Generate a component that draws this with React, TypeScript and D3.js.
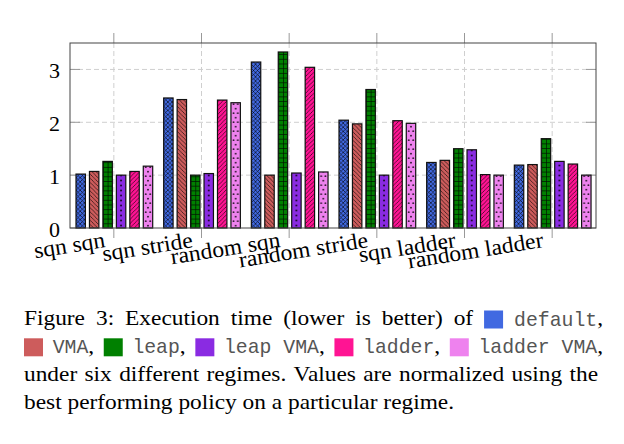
import { useEffect, useRef } from "react";
import * as d3 from "d3";

const regimes = ["sqn sqn", "sqn stride", "random sqn", "random stride", "sqn ladder", "random ladder"];
const policies = ["default", "VMA", "leap", "leap VMA", "ladder", "ladder VMA"];
const colors = ["#4169E1", "#CD5C5C", "#008000", "#8A2BE2", "#FF1493", "#EE82EE"];
const patternKinds = ["crosshatch", "nwlines", "grid", "dots", "nelines", "crossdots"];

// values per policy, one entry per regime
const defaultVals = [1.02, 2.46, 3.14, 2.04, 1.24, 1.19];
const vmaVals = [1.07, 2.43, 1.0, 1.97, 1.28, 1.2];
const leapVals = [1.26, 1.0, 3.33, 2.62, 1.5, 1.69];
const leapVmaVals = [1.0, 1.03, 1.04, 1.0, 1.48, 1.26];
const ladderVals = [1.07, 2.42, 3.04, 2.03, 1.01, 1.21];
const ladderVmaVals = [1.17, 2.37, 1.06, 1.98, 1.0, 1.0];
const series = [defaultVals, vmaVals, leapVals, leapVmaVals, ladderVals, ladderVmaVals];
const yTicks = [0, 1, 2, 3];

// caption: "#n" = colour swatch of policy n, `...` = monospace
const captionLines = [
  ["Figure", "3:", "Execution", "time", "(lower", "is", "better)", "of", "#0", "`default`,"],
  ["#1", "`VMA`,", "#2", "`leap`,", "#3", "`leap VMA`,", "#4", "`ladder`,", "#5", "`ladder VMA`,"],
  "under six different regimes. Values are normalized using the".split(" "),
  "best performing policy on a particular regime.".split(" "),
];
const justified = [true, true, true, false];
const lineRight = [603, 603, 598, 603];

const W = 624,
  H = 444;
const plot = { left: 70, right: 596, top: 43, bottom: 228 };
const serif = "'Liberation Serif', 'Times New Roman', serif";
const mono = "'Liberation Mono', 'Courier New', monospace";

export default function App() {
  const ref = useRef<SVGSVGElement>(null);

  useEffect(() => {
    if (!ref.current) return;
    const svg = d3.select(ref.current);
    svg.selectAll("*").remove();

    const x = d3.scaleBand<string>().domain(regimes).range([plot.left, plot.right]);
    const xs = d3
      .scaleBand<number>()
      .domain(d3.range(policies.length))
      .range([6, 82.7])
      .paddingInner(0.3);
    const y = d3.scaleLinear().domain([0, 3.5]).range([plot.bottom, plot.top]);

    const defs = svg.append("defs");
    const g = svg.append("g");

    // grid
    g.selectAll(".hg")
      .data(yTicks.filter((t) => t > 0))
      .enter()
      .append("line")
      .attr("x1", plot.left)
      .attr("x2", plot.right)
      .attr("y1", (d) => y(d))
      .attr("y2", (d) => y(d))
      .attr("stroke", "#cfcfcf")
      .attr("stroke-dasharray", "5,3");
    g.selectAll(".vg")
      .data(regimes)
      .enter()
      .append("line")
      .attr("x1", (d) => x(d)! + x.bandwidth() / 2)
      .attr("x2", (d) => x(d)! + x.bandwidth() / 2)
      .attr("y1", plot.top)
      .attr("y2", plot.bottom)
      .attr("stroke", "#cfcfcf")
      .attr("stroke-dasharray", "5,3");

    // ticks
    yTicks.forEach((t) => {
      g.append("line").attr("x1", plot.left).attr("x2", plot.left + 10).attr("y1", y(t)).attr("y2", y(t)).attr("stroke", "#999");
      g.append("line").attr("x1", plot.right - 10).attr("x2", plot.right).attr("y1", y(t)).attr("y2", y(t)).attr("stroke", "#999");
      g.append("text")
        .attr("x", plot.left - 10)
        .attr("y", y(t) + 8.5)
        .attr("text-anchor", "end")
        .attr("font-family", serif)
        .attr("font-size", 22)
        .text(t);
    });
    regimes.forEach((r) => {
      const cx = x(r)! + x.bandwidth() / 2;
      g.append("line").attr("x1", cx).attr("x2", cx).attr("y1", plot.top - 10).attr("y2", plot.top).attr("stroke", "#999");
      g.append("line").attr("x1", cx).attr("x2", cx).attr("y1", plot.bottom).attr("y2", plot.bottom + 10).attr("stroke", "#999");
      g.append("text")
        .attr("text-anchor", "end")
        .attr("transform", `translate(${cx - 8},${plot.bottom + 19}) rotate(-9) scale(1.05,1)`)
        .attr("font-family", serif)
        .attr("font-size", 22.5)
        .text(r);
    });

    // bars
    const ink = "rgba(0,0,0,0.85)";
    regimes.forEach((r, ri) => {
      series.forEach((vals, si) => {
        const bx = x(r)! + xs(si)!;
        const bw = xs.bandwidth();
        const v = vals[ri];
        const id = `p${ri}_${si}`;
        const kind = patternKinds[si];
        const pat = defs.append("pattern").attr("id", id).attr("patternUnits", "userSpaceOnUse").attr("x", bx).attr("y", plot.bottom);
        if (kind === "crosshatch" || kind === "nwlines" || kind === "nelines") {
          const s = 4.2;
          pat.attr("width", s).attr("height", s);
          const nw = `M0,0L${s},${s}M${-1},${s - 1}L1,${s + 1}M${s - 1},-1L${s + 1},1`;
          const ne = `M0,${s}L${s},0M-1,1L1,-1M${s - 1},${s + 1}L${s + 1},${s - 1}`;
          const d = kind === "crosshatch" ? nw + ne : kind === "nwlines" ? nw : ne;
          pat.append("path").attr("d", d).attr("stroke", ink).attr("stroke-width", 0.7).attr("fill", "none");
        } else if (kind === "grid") {
          pat.attr("width", bw / 2).attr("height", 4.7);
          pat.append("path").attr("d", `M0,0L${bw / 2},0M0,0L0,4.7`).attr("stroke", ink).attr("stroke-width", 1.4).attr("fill", "none");
        } else if (kind === "dots") {
          pat.attr("width", bw).attr("height", 5);
          pat.append("circle").attr("cx", bw / 2).attr("cy", 2.5).attr("r", 0.95).attr("fill", ink);
        } else {
          pat.attr("width", bw).attr("height", 9);
          pat.append("circle").attr("cx", bw * 0.27).attr("cy", 2.2).attr("r", 0.9).attr("fill", ink);
          pat.append("circle").attr("cx", bw * 0.73).attr("cy", 2.2).attr("r", 0.9).attr("fill", ink);
          pat.append("circle").attr("cx", bw * 0.5).attr("cy", 6.7).attr("r", 0.9).attr("fill", ink);
        }
        g.append("rect").attr("x", bx).attr("y", y(v)).attr("width", bw).attr("height", y(0) - y(v)).attr("fill", colors[si]);
        g.append("rect")
          .attr("x", bx)
          .attr("y", y(v))
          .attr("width", bw)
          .attr("height", y(0) - y(v))
          .attr("fill", `url(#${id})`)
          .attr("stroke", "#111")
          .attr("stroke-width", 1.2);
      });
    });

    // frame
    g.append("rect")
      .attr("x", plot.left)
      .attr("y", plot.top)
      .attr("width", plot.right - plot.left)
      .attr("height", plot.bottom - plot.top)
      .attr("fill", "none")
      .attr("stroke", "#444")
      .attr("stroke-width", 1);

    // caption (serif glyphs are a bit wider than tall in the reference)
    const capLeft = 24,
      fontSize = 20.5,
      monoSize = 19.8,
      stretch = 1.14,
      swatch = 19;
    captionLines.forEach((line, li) => {
      const baseline = 325.5 + li * 27.8;
      const items = line.map((tok) => {
        const node = g.append("g");
        let w = 0;
        if (tok.startsWith("#")) {
          node.append("rect").attr("x", 0).attr("y", baseline - 15).attr("width", swatch).attr("height", 18).attr("fill", colors[+tok.slice(1)]);
          w = swatch;
        } else {
          tok.split("`").forEach((seg, k) => {
            if (!seg) return;
            const isMono = k % 2 === 1;
            const sx = isMono ? 1 : stretch;
            const t = node
              .append("text")
              .attr("y", baseline)
              .attr("transform", `translate(${w},0) scale(${sx},1)`)
              .attr("font-family", isMono ? mono : serif)
              .attr("font-size", isMono ? monoSize : fontSize)
              .attr("fill", isMono ? "#555" : "#000")
              .text(seg);
            w += (t.node() as SVGTextElement).getComputedTextLength() * sx;
          });
        }
        return { node, w };
      });
      const total = d3.sum(items, (d) => d.w);
      const gap = justified[li] ? (lineRight[li] - capLeft - total) / (items.length - 1) : fontSize * stretch * 0.25;
      let cx = capLeft;
      items.forEach((it) => {
        it.node.attr("transform", `translate(${cx},0)`);
        cx += it.w + gap;
      });
    });
  }, []);

  return (
    <div style={{ position: "absolute", left: 0, top: 0 }}>
      <svg ref={ref} width={W} height={H} style={{ display: "block", background: "#fff" }} />
    </div>
  );
}
